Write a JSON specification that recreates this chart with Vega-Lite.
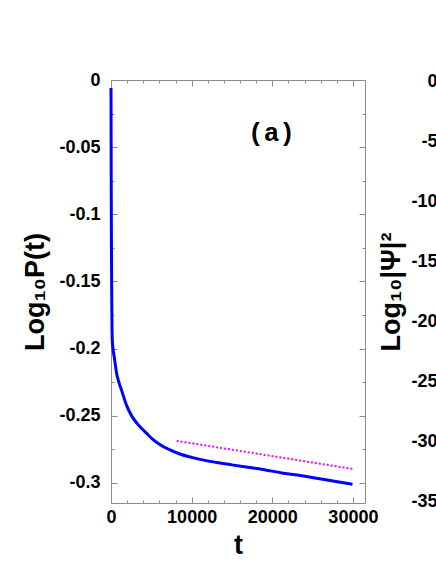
{
  "$schema": "https://vega.github.io/schema/vega-lite/v6.json",
  "autosize": {"type": "none"},
  "width": 254,
  "height": 423,
  "padding": {"left": 111, "top": 80, "right": 71, "bottom": 61},
  "background": "white",
  "config": {
    "view": {"stroke": null},
    "axis": {
      "grid": false,
      "domainColor": "#8c8c8c",
      "tickColor": "#8c8c8c",
      "labelFont": "Liberation Sans",
      "labelFontWeight": "bold",
      "labelFontSize": 18,
      "labelColor": "black",
      "titleFont": "Liberation Sans",
      "titleFontWeight": "bold",
      "titleFontSize": 27,
      "titleColor": "black",
      "labelOverlap": false,
      "labelFlush": false
    }
  },
  "datasets": {
    "decay": [
      {"t": 0, "logP": -0.006},
      {"t": 20, "logP": -0.06},
      {"t": 40, "logP": -0.1},
      {"t": 60, "logP": -0.13},
      {"t": 87, "logP": -0.157},
      {"t": 120, "logP": -0.18},
      {"t": 161, "logP": -0.194},
      {"t": 250, "logP": -0.2},
      {"t": 409, "logP": -0.2065},
      {"t": 706, "logP": -0.2187},
      {"t": 1000, "logP": -0.2255},
      {"t": 1326, "logP": -0.2313},
      {"t": 1945, "logP": -0.2425},
      {"t": 2600, "logP": -0.2505},
      {"t": 3200, "logP": -0.2555},
      {"t": 3804, "logP": -0.2595},
      {"t": 4400, "logP": -0.263},
      {"t": 5043, "logP": -0.2668},
      {"t": 6000, "logP": -0.2712},
      {"t": 7310, "logP": -0.2755},
      {"t": 8549, "logP": -0.2785},
      {"t": 10000, "logP": -0.281},
      {"t": 11030, "logP": -0.2825},
      {"t": 13090, "logP": -0.2848},
      {"t": 15000, "logP": -0.2866},
      {"t": 17222, "logP": -0.2886},
      {"t": 19000, "logP": -0.2902},
      {"t": 21350, "logP": -0.2928},
      {"t": 23500, "logP": -0.2946},
      {"t": 25490, "logP": -0.2965},
      {"t": 27700, "logP": -0.2988},
      {"t": 29950, "logP": -0.301}
    ],
    "fit": [
      {"t": 8140, "logP": -0.2687},
      {"t": 29950, "logP": -0.2896}
    ],
    "panel": [
      {"label": "(a)", "t": 19900, "logP": -0.0395}
    ],
    "psi": []
  },
  "layer": [
    {
      "data": {"name": "decay"},
      "mark": {"type": "line", "color": "#0000ff", "strokeWidth": 3, "interpolate": "monotone"},
      "encoding": {
        "x": {
          "field": "t", "type": "quantitative",
          "scale": {"domain": [0, 31500], "nice": false, "zero": false},
          "axis": {
            "orient": "bottom",
            "values": [0, 2000, 4000, 6000, 8000, 10000, 12000, 14000, 16000, 18000, 20000, 22000, 24000, 26000, 28000, 30000],
            "format": "d",
            "labelExpr": "datum.value % 10000 === 0 ? datum.label : ''",
            "tickSize": {"condition": {"test": "datum.value % 10000 === 0", "value": -6}, "value": -3},
            "labelPadding": 11,
            "title": "t",
            "titleX": 127,
            "titleY": 50,
            "titleBaseline": "alphabetic",
            "titleAlign": "center"
          }
        },
        "y": {
          "field": "logP", "type": "quantitative",
          "scale": {"domain": [-0.315, 0], "nice": false, "zero": false},
          "axis": {
            "orient": "left",
            "values": [0, -0.025, -0.05, -0.075, -0.1, -0.125, -0.15, -0.175, -0.2, -0.225, -0.25, -0.275, -0.3],
            "format": "~g",
            "labelExpr": "abs(round(datum.value*40)) % 2 === 0 ? replace(datum.label, '\u2212', '-') : ''",
            "tickSize": {"condition": {"test": "abs(round(datum.value*40)) % 2 === 0", "value": -6}, "value": -3},
            "labelPadding": 17,
            "title": "Log\u2081\u2080P(t)",
            "titleAngle": 270,
            "titleX": -68,
            "titleY": 211.5,
            "titleBaseline": "alphabetic",
            "titleAlign": "center"
          }
        }
      }
    },
    {
      "data": {"name": "fit"},
      "mark": {"type": "line", "color": "#ff00ff", "strokeWidth": 2, "strokeDash": [2, 2]},
      "encoding": {
        "x": {
          "field": "t", "type": "quantitative",
          "scale": {"domain": [0, 31500], "nice": false, "zero": false},
          "axis": {
            "orient": "top",
            "values": [0, 2000, 4000, 6000, 8000, 10000, 12000, 14000, 16000, 18000, 20000, 22000, 24000, 26000, 28000, 30000],
            "labels": false,
            "tickSize": {"condition": {"test": "datum.value % 10000 === 0", "value": -6}, "value": -3},
            "title": null
          }
        },
        "y": {
          "field": "logP", "type": "quantitative",
          "scale": {"domain": [-0.315, 0], "nice": false, "zero": false},
          "axis": {
            "orient": "right",
            "values": [0, -0.025, -0.05, -0.075, -0.1, -0.125, -0.15, -0.175, -0.2, -0.225, -0.25, -0.275, -0.3],
            "labels": false,
            "tickSize": {"condition": {"test": "abs(round(datum.value*40)) % 2 === 0", "value": -6}, "value": -3},
            "title": null
          }
        }
      }
    },
    {
      "data": {"name": "panel"},
      "mark": {"type": "text", "font": "Liberation Mono", "fontWeight": "bold", "fontSize": 26, "color": "black", "baseline": "middle", "align": "center"},
      "encoding": {
        "x": {"field": "t", "type": "quantitative", "scale": {"domain": [0, 31500], "nice": false, "zero": false}, "axis": null},
        "y": {"field": "logP", "type": "quantitative", "scale": {"domain": [-0.315, 0], "nice": false, "zero": false}, "axis": null},
        "text": {"field": "label"}
      }
    },
    {
      "data": {"name": "psi"},
      "mark": {"type": "point"},
      "encoding": {
        "y": {
          "field": "logPsi2", "type": "quantitative",
          "scale": {"domain": [-35.1, 0.15], "nice": false, "zero": false},
          "axis": {
            "orient": "right",
            "offset": 72,
            "domain": false,
            "ticks": false,
            "values": [0, -5, -10, -15, -20, -25, -30, -35],
            "format": "d",
            "labelExpr": "replace(datum.label, '\u2212', '-')",
            "labelAlign": "right",
            "labelPadding": 0,
            "title": "Log\u2081\u2080|\u03a8|\u00b2",
            "titleAngle": 270,
            "titleX": -38,
            "titleY": 211.5,
            "titleBaseline": "alphabetic",
            "titleAlign": "center"
          }
        }
      }
    }
  ],
  "resolve": {"scale": {"y": "independent"}, "axis": {"x": "independent", "y": "independent"}}
}
